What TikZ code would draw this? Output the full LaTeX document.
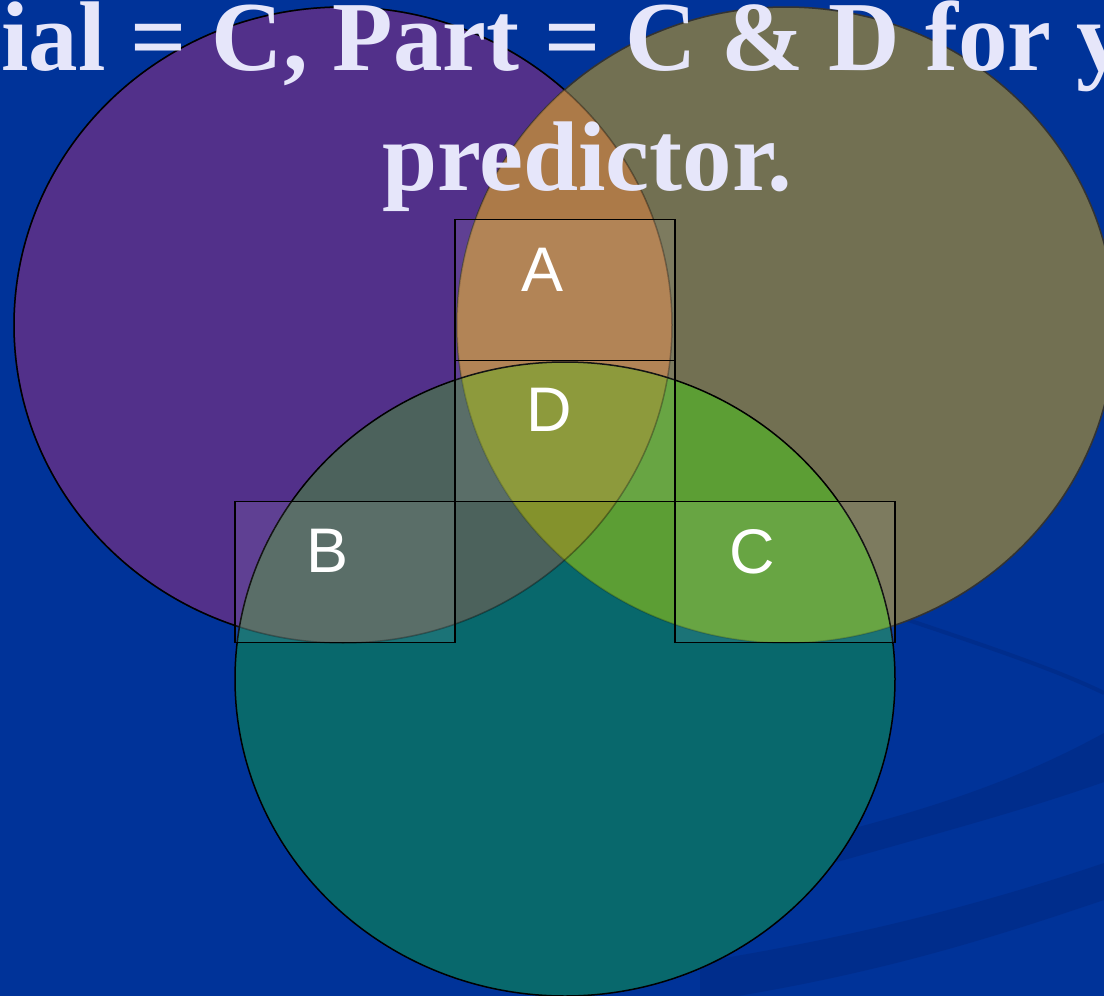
\documentclass[tikz,border=0pt]{standalone}
\usepackage{fontspec}
\setmainfont{Liberation Serif}
\setsansfont{Liberation Sans}
\usetikzlibrary{positioning}
\definecolor{Cbg}{RGB}{0,51,153}
\definecolor{Cswoosh}{RGB}{0,45,140}
\definecolor{Cpur}{RGB}{82,48,138}
\definecolor{Coli}{RGB}{114,112,82}
\definecolor{Cgrn}{RGB}{8,104,108}
\definecolor{Cpo}{RGB}{172,122,72}
\definecolor{Cpg}{RGB}{76,98,92}
\definecolor{Cog}{RGB}{92,158,52}
\definecolor{Cpog}{RGB}{132,146,44}
\definecolor{Ctxt}{RGB}{230,230,250}
\tikzset{
  purC/.style={insert path={(343,325) ellipse [x radius=329pt, y radius=318pt]}},
  oliC/.style={insert path={(786,325) ellipse [x radius=329pt, y radius=318pt]}},
  grnC/.style={insert path={(565,679) ellipse [x radius=330pt, y radius=317pt]}},
  cellbox/.style={draw=black, line width=1.9pt, fill=white, fill opacity=0.08,
    minimum width=220pt, minimum height=141pt, inner sep=0pt, outer sep=0pt},
  celllbl/.style={text=white, inner sep=0pt, font=\sffamily\fontsize{63}{63}\selectfont},
  ttl/.style={text=Ctxt, inner sep=0pt, font=\bfseries\fontsize{99}{99}\selectfont},
}
\begin{document}
\begin{tikzpicture}[x=1pt, y=-1pt]
\useasboundingbox (0,0) rectangle (1104,996);
\clip (0,0) rectangle (1104,996);
\fill[Cbg] (0,0) rectangle (1104,996);

%% background swooshes
\draw[Cswoosh, line width=4pt] (850,600) .. controls (950,635) and (1040,662) .. (1104,693);
\fill[Cswoosh] (760,852) .. controls (900,818) and (1000,790) .. (1104,733)
  -- (1104,782) .. controls (1010,815) and (930,835) .. (760,884) -- cycle;
\fill[Cswoosh] (700,962) .. controls (850,938) and (980,905) .. (1104,863)
  -- (1104,900) .. controls (1000,935) and (880,975) .. (700,1002) -- cycle;

%% circles and their overlaps
\fill[Cpur, draw=black, line width=1.5pt, purC];
\fill[Coli, draw=black!75, line width=1.5pt, oliC];
\begin{scope}
  \clip[purC];
  \fill[Cpo, oliC];
\end{scope}
\fill[Cgrn, grnC];
\begin{scope}
  \clip[grnC];
  \fill[Cpg, purC];
  \fill[Cog, oliC];
  \clip[purC];
  \fill[Cpog, oliC];
\end{scope}
\draw[black, draw opacity=0.35, line width=1.5pt, purC];
\draw[black, draw opacity=0.2, line width=1.5pt, oliC];
\draw[black, line width=1.5pt, grnC];

%% cells
\node[cellbox] (bxA) at (565,290) {};
\node[cellbox, below=0pt of bxA] (bxD) {};
\node[cellbox, anchor=north east] (bxB) at (bxD.south west) {};
\node[cellbox, anchor=north west] (bxC) at (bxD.south east) {};

\node[celllbl] (lblA) at (543,270) {A};
\node[celllbl] (lblD) at (549,410) {D};
\node[celllbl] (lblB) at (328,551) {B};
\node[celllbl] (lblC) at (752,552) {C};

%% title
\node[ttl, anchor=base west] (ttl1) at (1,70) {ial = C, Part = C \& D for y};
\node[ttl, anchor=base] (ttl2) at (587,190) {predictor.};

\end{tikzpicture}
\end{document}
